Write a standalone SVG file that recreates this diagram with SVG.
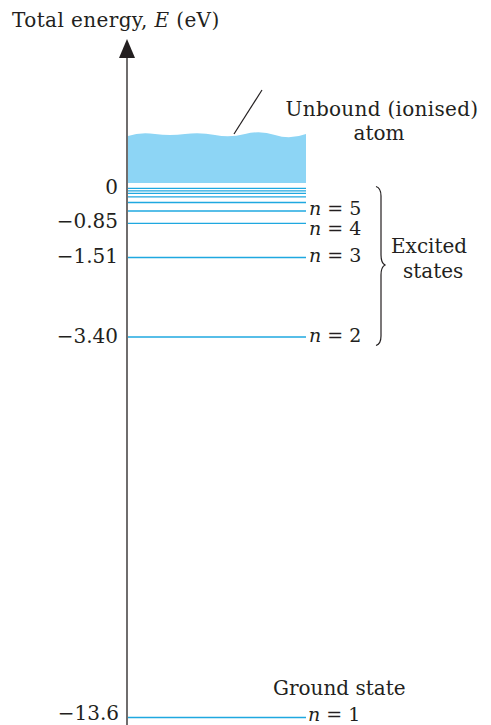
<svg xmlns="http://www.w3.org/2000/svg" width="491" height="725" viewBox="0 0 491 725">
<style>
text{font-family:"DejaVu Serif","Liberation Serif",serif;font-size:20px;fill:#231f20}
.r{text-anchor:end}
.m{text-anchor:middle}
.n{font-size:19px}
.lv{stroke:#1fa8e0;stroke-width:1.3;fill:none}
</style>
<rect width="491" height="725" fill="#fff"/>
<g id="axis">
<line x1="127" y1="56" x2="127" y2="725" stroke="#231f20" stroke-width="1.3"/>
<polygon points="127,39 119,58 135,58" fill="#231f20"/>
<text x="12" y="27" letter-spacing="0.4">Total energy, <tspan font-style="italic">E</tspan> (eV)</text>
</g>
<g id="unbound">
<path d="M128,136 Q140,132 155,134 T185,134 T215,135 T245,134 T275,135 T306,134 L306,183 L128,183 Z" fill="#8dd5f5"/>
<line x1="262" y1="90" x2="234" y2="134" stroke="#231f20" stroke-width="1.2"/>
<text x="382" y="116" class="m" letter-spacing="0.3">Unbound (ionised)</text>
<text x="379" y="140" class="m">atom</text>
</g>
<g id="levels">
<path class="lv" d="M128,188.3H306M128,190.8H306M128,193.3H306M128,196.8H306M128,202.5H306"/>
<text x="118" y="194" class="r">0</text>
</g>
<g id="n5"><line class="lv" x1="128" y1="211" x2="306" y2="211"/><text class="n" x="309" y="215"><tspan font-style="italic">n</tspan> = 5</text></g>
<g id="n4"><line class="lv" x1="128" y1="223.3" x2="306" y2="223.3"/><text class="n" x="309" y="235"><tspan font-style="italic">n</tspan> = 4</text><text x="118" y="228" class="r">−0.85</text></g>
<g id="n3"><line class="lv" x1="128" y1="257.5" x2="306" y2="257.5"/><text class="n" x="309" y="262"><tspan font-style="italic">n</tspan> = 3</text><text x="118" y="263" class="r">−1.51</text></g>
<g id="n2"><line class="lv" x1="128" y1="337" x2="306" y2="337"/><text class="n" x="309" y="342"><tspan font-style="italic">n</tspan> = 2</text><text x="118" y="343" class="r">−3.40</text></g>
<g id="n1"><line class="lv" x1="128" y1="717.5" x2="306" y2="717.5"/><text class="n" x="308" y="721"><tspan font-style="italic">n</tspan> = 1</text><text x="119" y="720" class="r">−13.6</text>
<text x="273" y="695">Ground state</text></g>
<g id="excited">
<path d="M376,186.5 Q381,188 381,196 L381,255 Q381,263 385,265 Q381,267 381,275 L381,336 Q381,344 376,345.5" fill="none" stroke="#231f20" stroke-width="1.2"/>
<text x="391" y="253">Excited</text>
<text x="403" y="278">states</text>
</g>
</svg>
